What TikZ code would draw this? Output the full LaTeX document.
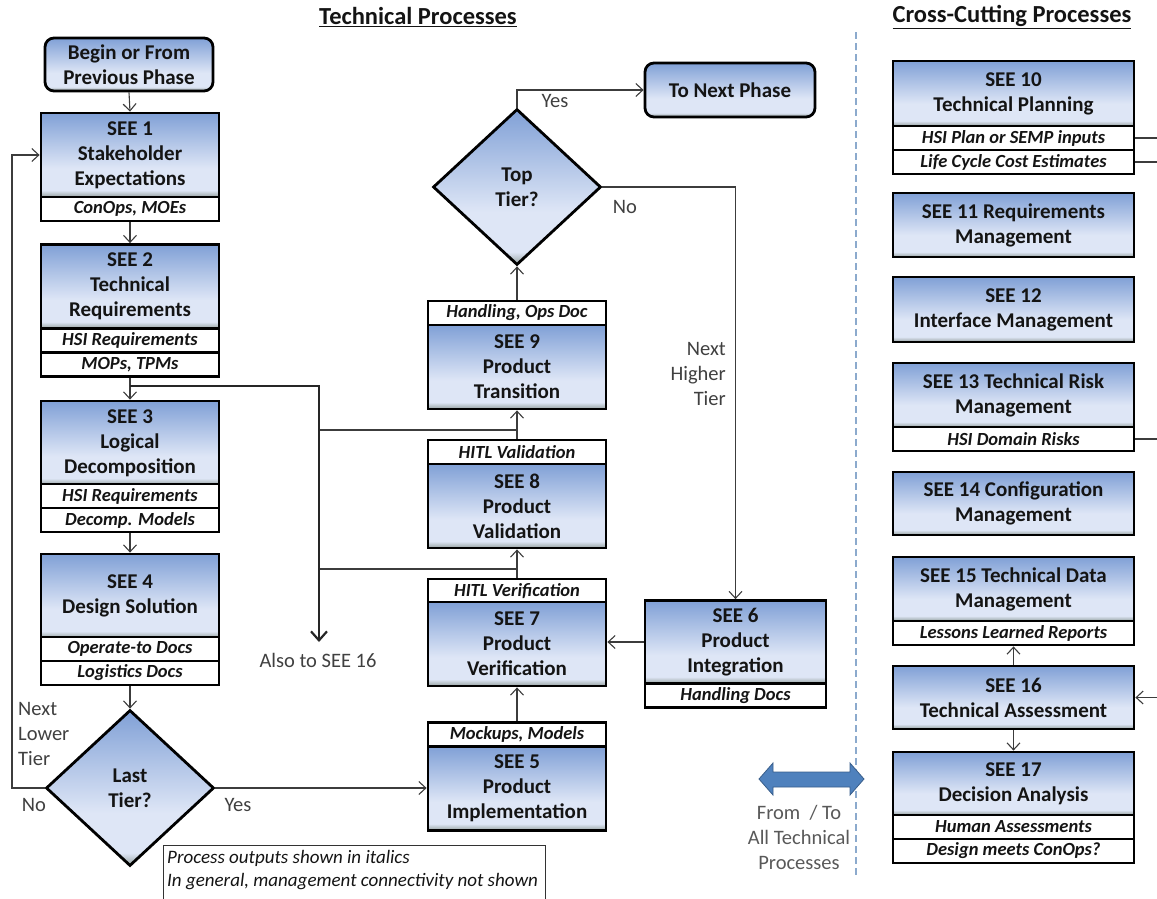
\documentclass[tikz,border=0pt]{standalone}
\usepackage{fontspec}
\setmainfont{Carlito}
\usetikzlibrary{arrows.meta,shapes.geometric,calc}

\definecolor{seeTop}{RGB}{128,160,214}
\definecolor{seeLight}{RGB}{222,230,246}
\definecolor{seeBot}{RGB}{150,162,160}
\definecolor{connGray}{RGB}{60,60,60}
\definecolor{labelGray}{RGB}{64,64,64}
\definecolor{softGray}{RGB}{89,89,89}
\definecolor{dashBlue}{RGB}{140,170,205}
\definecolor{fatBlue}{RGB}{79,129,189}
\definecolor{fatEdge}{RGB}{56,93,138}
\definecolor{txt}{RGB}{20,20,20}

% blue process fill: darker blue at the top, pale below, grey rim at the bottom
\pgfdeclareverticalshading{seefill}{100bp}{color(0bp)=(seeBot); color(25bp)=(seeBot); color(29bp)=(seeLight); color(42bp)=(seeLight); color(75bp)=(seeTop); color(100bp)=(seeTop)}

\tikzset{
  proc/.style={draw=black, line width=2.8pt, shade, shading=seefill, align=center,
    inner sep=0pt, text=txt, font=\bfseries\fontsize{21}{25}\selectfont},
  procL/.style={proc, minimum width=178pt, minimum height=84pt},
  procR/.style={proc, minimum width=241pt, minimum height=64pt},
  outp/.style={draw=black, line width=2.8pt, fill=white, align=center, inner sep=0pt,
    minimum height=24pt, text=txt, font=\bfseries\itshape\fontsize{18.5}{20}\selectfont},
  outL/.style={outp, minimum width=178pt},
  outR/.style={outp, minimum width=241pt},
  phase/.style={proc, rounded corners=9pt},
  decision/.style={proc, diamond, minimum width=168pt, minimum height=156pt},
  conn/.style={draw=connGray, line width=1.1pt, -{Straight Barb[length=7pt,width=13pt]}},
  link/.style={draw=connGray, line width=1.1pt},
  alsoarrow/.style={draw=black!85, line width=2pt, -{Straight Barb[length=9pt,width=16pt,line width=2.2pt]}},
  lbl/.style={text=labelGray, inner sep=0pt, font=\fontsize{20.5}{25}\selectfont},
  heading/.style={inner sep=0pt, text=txt, font=\bfseries\fontsize{24.5}{28}\selectfont},
}

\begin{document}
\begin{tikzpicture}[x=1pt, y=-1pt]
\useasboundingbox (0,0) rectangle (1157,898);
\clip (0,0) rectangle (1157,898);

% headings
\node[heading] (hTech) at (418,17) {\underline{Technical Processes}};
\node[heading] (hCross) at (1012,17) {\underline{Cross-Cutting Processes}};

% divider between the two groups
\coordinate (divTop) at (856,32);
\coordinate (divBot) at (856,876);
\draw[dashBlue, line width=1.1pt, dash pattern=on 7pt off 4pt] (divTop) -- (divBot);

% ---------- left column: SEE 1 to SEE 4 ----------
\node[phase, minimum width=168pt, minimum height=53pt] (begin) at (129,64.5) {Begin or From\\Previous Phase};

\node[procL] (see1) at (130,155) {SEE 1\\Stakeholder\\Expectations};
\node[outL]  (see1o) at (130,209) {ConOps, MOEs};

\node[procL] (see2) at (130,286.5) {SEE 2\\Technical\\Requirements};
\node[outL]  (see2o1) at (130,340.5) {HSI Requirements};
\node[outL]  (see2o2) at (130,364.5) {MOPs, TPMs};

\node[procL] (see3) at (130,443) {SEE 3\\Logical\\Decomposition};
\node[outL]  (see3o1) at (130,496) {HSI Requirements};
\node[outL]  (see3o2) at (130,520) {Decomp. Models};

\node[procL] (see4) at (130,596) {SEE 4\\Design Solution};
\node[outL]  (see4o1) at (130,649) {Operate-to Docs};
\node[outL]  (see4o2) at (130,673) {Logistics Docs};

\node[decision] (last) at (130,788) {Last\\Tier?};

% ---------- middle column: SEE 5 to SEE 9 ----------
\node[outL]  (see5o) at (517,734.5) {Mockups, Models};
\node[procL] (see5) at (517,788.5) {SEE 5\\Product\\Implementation};

\node[outL]  (see7o) at (517,591) {HITL Verification};
\node[procL] (see7) at (517,644) {SEE 7\\Product\\Verification};

\node[outL]  (see8o) at (517,452) {HITL Validation};
\node[procL] (see8) at (517,506) {SEE 8\\Product\\Validation};

\node[outL]  (see9o) at (517,313) {Handling, Ops Doc};
\node[procL] (see9) at (517,367) {SEE 9\\Product\\Transition};

\node[decision] (top) at (517,187) {Top\\Tier?};
\node[phase, minimum width=170pt, minimum height=54pt] (next) at (730,90) {To Next Phase};

\node[procL, minimum width=181pt, minimum height=83pt] (see6) at (735.5,642) {SEE 6\\Product\\Integration};
\node[outL, minimum width=181pt] (see6o) at (735.5,695.5) {Handling Docs};

% ---------- right column: cross-cutting processes ----------
\node[procR, minimum height=65pt] (see10) at (1013.5,93.5) {SEE 10\\Technical Planning};
\node[outR] (see10o1) at (1013.5,138) {HSI Plan or SEMP inputs};
\node[outR] (see10o2) at (1013.5,162) {Life Cycle Cost Estimates};

\node[procR] (see11) at (1013.5,225) {SEE 11 Requirements\\Management};
\node[procR, minimum height=65pt] (see12) at (1013.5,309.5) {SEE 12\\Interface Management};

\node[procR] (see13) at (1013.5,395) {SEE 13 Technical Risk\\Management};
\node[outR] (see13o) at (1013.5,439) {HSI Domain Risks};

\node[procR, minimum height=63pt] (see14) at (1013.5,503.5) {SEE 14 Configuration\\Management};

\node[procR] (see15) at (1013.5,589) {SEE 15 Technical Data\\Management};
\node[outR] (see15o) at (1013.5,633) {Lessons Learned Reports};

\node[procR, minimum height=63pt] (see16) at (1013.5,697.5) {SEE 16\\Technical Assessment};

\node[procR, minimum height=63pt] (see17) at (1013.5,783.5) {SEE 17\\Decision Analysis};
\node[outR] (see17o1) at (1013.5,827) {Human Assessments};
\node[outR] (see17o2) at (1013.5,851) {Design meets ConOps?};

% ---------- connectors, left column ----------
\draw[conn] (begin.south) -- (see1.north);
\draw[conn] (see1o.south) -- (see2.north);
\draw[conn] (see2o2.south) -- (see3.north);
\draw[conn] (see3o2.south) -- (see4.north);
\draw[conn] (see4o2.south) -- (last.north);

\coordinate (loopX) at (12,0);
\draw[conn] (last.west) -- (last.west -| loopX) |- (see1.west);
\draw[conn] (last.east) -- (last.east -| see5.west);

% ---------- connectors, middle column ----------
\draw[conn] (see5o.north) -- (see7.south);
\draw[conn] (see7o.north) -- (see8.south);
\draw[conn] (see8o.north) -- (see9.south);
\draw[conn] (see9o.north) -- (top.south);
\draw[conn] (top.north) |- (next.west);
\draw[conn] (top.east) -| (see6.north);
\draw[conn] (see6.west) -- (see6.west -| see7.east);

% outputs also passed on to SEE 16
\coordinate (alsoTop) at (319,386);
\coordinate (alsoTip) at (319,642);
\coordinate (branchVal) at (319,430);
\coordinate (branchVer) at (319,569);
\draw[link] (see8o.north |- branchVal) -- (branchVal);
\draw[link] (see7o.north |- branchVer) -- (branchVer);
\draw[alsoarrow] (see2o2.south |- alsoTop) -- (alsoTop) -- (alsoTip);

% ---------- connectors, right column ----------
\coordinate (edgeR) at (1157,0);
\draw[link] (see10o1.east) -- (see10o1.east -| edgeR);
\draw[link] (see10o2.east) -- (see10o2.east -| edgeR);
\draw[link] (see13o.east) -- (see13o.east -| edgeR);
\draw[conn] (see16.east -| edgeR) -- (see16.east);
\draw[conn] (see16.north) -- (see15o.south);
\draw[conn] (see16.south) -- (see17.north);

% ---------- labels ----------
\node[lbl] (yesTop) at (555,101) {Yes};
\node[lbl] (noTop) at (625,207) {No};
\node[lbl, anchor=east, align=right] (higher) at (726,374) {Next\\Higher\\Tier};
\node[lbl, anchor=west, align=left] (lower) at (18,734) {Next\\Lower\\Tier};
\node[lbl] (noLast) at (34,805) {No};
\node[lbl] (yesLast) at (238,805) {Yes};
\node[lbl] (alsoTxt) at (318,660) {Also to SEE 16};

% two-way link to all technical processes
\fill[fatBlue, draw=fatEdge, line width=0.8pt]
  (759,779) -- (773,763) -- (773,772) -- (850,772) -- (850,763) -- (864,779)
  -- (850,795) -- (850,787) -- (773,787) -- (773,795) -- cycle;
\node[lbl, text=softGray, align=center] (fromTo) at (799,837) {From~~/ To\\All Technical\\Processes};

% footnote box
\node[draw=black!80, line width=0.8pt, anchor=north west, minimum width=382pt, minimum height=70pt, inner sep=0pt] (noteFrame) at (163,845) {};
\node[anchor=north west, inner sep=0pt, align=left, text=txt, font=\itshape\fontsize{19}{23}\selectfont]
  (noteText) at ($(noteFrame.north west)+(4,5)$) {Process outputs shown in italics\\In general, management connectivity not shown};
\end{tikzpicture}
\end{document}
